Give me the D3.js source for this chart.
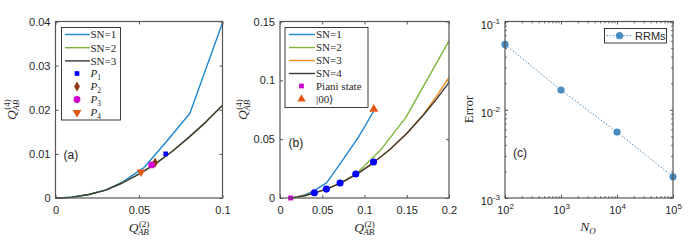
<!DOCTYPE html>
<html>
<head>
<meta charset="utf-8">
<script src="https://cdn.jsdelivr.net/npm/d3@7"></script>
<style>
  body { margin: 0; background: #fff; }
</style>
</head>
<body>
<div id="container"></div>
<script>
// ---- panel (a) data ----
const aSN1X = [0, 0.01, 0.02, 0.03, 0.04, 0.053, 0.0665, 0.0805, 0.1];
const aSN1Y = [0, 0.0002, 0.0008, 0.0018, 0.0036, 0.0069, 0.0128, 0.0192, 0.0397];
const aLowX = [0, 0.005, 0.01, 0.02, 0.03, 0.04, 0.05, 0.06, 0.07, 0.08, 0.09, 0.1];
const aSN2Y = [0, 0.00003, 0.0002, 0.0008, 0.0018, 0.0034, 0.0054, 0.0078, 0.0106, 0.0138, 0.0172, 0.021];
const aSN3Y = [0, 0.00003, 0.0002, 0.0008, 0.0018, 0.0034, 0.0054, 0.0078, 0.0106, 0.0138, 0.0172, 0.021];
const aPointNames = ["1", "2", "3", "4"];
const aPointX = [0.066, 0.0596, 0.0576, 0.0512];
const aPointY = [0.0100, 0.0080, 0.0075, 0.0059];
const aP2Err = 0.0004;

// ---- panel (b) data ----
const bSN1X = [0.0126, 0.02, 0.03, 0.0407, 0.0553, 0.075, 0.093, 0.1107];
const bSN1Y = [0, 0.0009, 0.0028, 0.0062, 0.013, 0.033, 0.052, 0.0735];
const bSN2X = [0.0126, 0.02, 0.03, 0.04, 0.055, 0.071, 0.09, 0.119, 0.149, 0.2];
const bSN2Y = [0, 0.0007, 0.0021, 0.0041, 0.0075, 0.0126, 0.0205, 0.0407, 0.0685, 0.1335];
const bLowX = [0.0126, 0.02, 0.03, 0.04, 0.055, 0.071, 0.09, 0.11, 0.13, 0.15, 0.17, 0.185, 0.2];
const bSN3Y = [0, 0.0007, 0.0021, 0.0041, 0.0075, 0.0125, 0.0199, 0.0297, 0.0412, 0.0548, 0.0712, 0.0862, 0.1025];
const bSN4Y = [0, 0.0007, 0.0021, 0.0041, 0.0075, 0.0125, 0.0199, 0.0297, 0.0412, 0.0548, 0.0708, 0.0838, 0.0982];
const bDotX = [0.0407, 0.0549, 0.0711, 0.0897, 0.1107];
const bDotY = [0.0045, 0.0076, 0.0127, 0.0204, 0.0306];
const bPiani = [0.0126, 0];
const bKet00 = [0.111, 0.0755];

// ---- panel (c) data ----
const cNO = [1e2, 1e3, 1e4, 1e5];
const cError = [0.055, 0.0167, 0.00558, 0.00174];

const serif = "Liberation Serif, Times New Roman, serif";
const sans = "Liberation Sans, Arial, Helvetica, sans-serif";
const ink = "#262626";
const cBlue = "#1f86cf", cGreen = "#7db53a", cOrange = "#ee8c1e", cDark = "#3a3a38";
const cRRM = "#4a8bc0";

const svg = d3.select("#container").append("svg")
  .attr("width", 697).attr("height", 241);

const yTop = 21.5, yBottom = 198;

function zip(xs, ys) { return xs.map((v, i) => [v, ys[i]]); }

// draws inward ticks on all four sides
function drawAxes(x, y, xTicks, yTicks, xFmt, yFmt, xMinor, yMinor) {
  const [x0, x1] = x.range();
  const g = svg.append("g");
  g.append("g").attr("class", "xb").attr("transform", `translate(0,${yBottom})`)
    .call(d3.axisBottom(x).tickValues(xTicks).tickSize(-3).tickPadding(8).tickFormat(xFmt));
  g.append("g").attr("transform", `translate(0,${yTop})`)
    .call(d3.axisTop(x).tickValues(xTicks).tickSize(-3).tickFormat(""));
  g.append("g").attr("class", "yl").attr("transform", `translate(${x0},0)`)
    .call(d3.axisLeft(y).tickValues(yTicks).tickSize(-3).tickPadding(5).tickFormat(yFmt));
  g.append("g").attr("transform", `translate(${x1},0)`)
    .call(d3.axisRight(y).tickValues(yTicks).tickSize(-3).tickFormat(""));
  if (xMinor) {
    g.append("g").attr("transform", `translate(0,${yBottom})`)
      .call(d3.axisBottom(x).tickValues(xMinor).tickSize(-1.8).tickFormat(""));
    g.append("g").attr("transform", `translate(0,${yTop})`)
      .call(d3.axisTop(x).tickValues(xMinor).tickSize(-1.8).tickFormat(""));
  }
  if (yMinor) {
    g.append("g").attr("transform", `translate(${x0},0)`)
      .call(d3.axisLeft(y).tickValues(yMinor).tickSize(-1.8).tickFormat(""));
    g.append("g").attr("transform", `translate(${x1},0)`)
      .call(d3.axisRight(y).tickValues(yMinor).tickSize(-1.8).tickFormat(""));
  }
  g.selectAll(".domain").remove();
  g.selectAll(".tick line").attr("stroke", ink).attr("stroke-width", 0.8);
  g.selectAll("text").attr("font-family", sans).attr("font-size", 11).attr("fill", ink);
  return g;
}

function drawBox(x) {
  const [x0, x1] = x.range();
  svg.append("rect")
    .attr("x", x0).attr("y", yTop).attr("width", x1 - x0).attr("height", yBottom - yTop)
    .attr("fill", "none").attr("stroke", "#555").attr("stroke-width", 1.2);
}

function drawLine(x, y, pts, color) {
  svg.append("path").datum(pts)
    .attr("d", d3.line().x(d => x(d[0])).y(d => y(d[1])))
    .attr("fill", "none").attr("stroke", color).attr("stroke-width", 1.4)
    .attr("stroke-linejoin", "round");
}

// Q^{(n)}_{AB} label
function qLabel(cx, cy, rot, sup) {
  const outer = svg.append("g").attr("transform", `translate(${cx},${cy}) rotate(${rot})`);
  const g = outer.append("g");
  const q = g.append("text").attr("font-family", serif).attr("font-style", "italic")
    .attr("font-size", 13.5).attr("fill", ink).text("Q");
  const w = q.node().getComputedTextLength();
  const s1 = g.append("text").attr("x", w + 0.5).attr("y", -5.5).attr("font-family", serif)
    .attr("font-size", 9).attr("fill", ink).text(sup);
  const s2 = g.append("text").attr("x", w - 0.5).attr("y", 3).attr("font-family", serif)
    .attr("font-style", "italic").attr("font-size", 9).attr("fill", ink).text("AB");
  const total = w + Math.max(s1.node().getComputedTextLength(), s2.node().getComputedTextLength());
  g.attr("transform", `translate(${-total / 2},0)`);
}

function panelLabel(px, py, t) {
  svg.append("text").attr("x", px).attr("y", py).attr("font-family", sans)
    .attr("font-size", 12).attr("fill", ink).text(t);
}

function marker(sel, type, size, color, rotate) {
  sel.append("path")
    .attr("d", d3.symbol().type(type).size(size)())
    .attr("transform", rotate ? "rotate(180)" : null)
    .attr("fill", color);
}

// ================= PANEL (a) =================
{
  const x = d3.scaleLinear().domain([0, 0.1]).range([55.5, 222.5]);
  const y = d3.scaleLinear().domain([0, 0.04]).range([yBottom, yTop]);
  drawAxes(x, y, [0, 0.05, 0.1], [0, 0.01, 0.02, 0.03, 0.04],
    d => d === 0 ? "0" : String(d), d => d === 0 ? "0" : d3.format(".2f")(d));

  drawLine(x, y, zip(aSN1X, aSN1Y), cBlue);
  drawLine(x, y, zip(aLowX, aSN2Y), cGreen);
  drawLine(x, y, zip(aLowX, aSN3Y), cDark);

  const shapes = [
    { type: d3.symbolSquare, size: 22, color: "#0000ff" },
    { type: d3.symbolDiamond, size: 30, color: "#8f3a12" },
    { type: d3.symbolCircle, size: 36, color: "#d000d0" },
    { type: d3.symbolTriangle, size: 34, color: "#e2561a", rot: true }
  ];
  aPointNames.forEach((n, i) => {
    const s = shapes[i];
    const gp = svg.append("g").attr("transform", `translate(${x(aPointX[i])},${y(aPointY[i])})`);
    if (i === 1) {
      gp.append("line").attr("y1", y(aPointY[i] - aP2Err) - y(aPointY[i]))
        .attr("y2", y(aPointY[i] + aP2Err) - y(aPointY[i]))
        .attr("stroke", s.color).attr("stroke-width", 1);
    }
    marker(gp, s.type, s.size, s.color, s.rot);
  });

  drawBox(x);

  // legend
  const lg = svg.append("g").attr("transform", "translate(61.5,27.5)");
  lg.append("rect").attr("width", 59).attr("height", 92.5)
    .attr("fill", "#fff").attr("stroke", ink).attr("stroke-width", 0.9);
  const lineItems = [["SN=1", cBlue], ["SN=2", cGreen], ["SN=3", cDark]];
  lineItems.forEach((d, i) => {
    const yy = 7 + i * 13.2;
    lg.append("line").attr("x1", 3.5).attr("x2", 28.5).attr("y1", yy).attr("y2", yy)
      .attr("stroke", d[1]).attr("stroke-width", 1.4);
    lg.append("text").attr("x", 29).attr("y", yy + 3.8).attr("font-family", serif)
      .attr("font-size", 11).attr("fill", ink).text(d[0]);
  });
  aPointNames.forEach((n, i) => {
    const yy = 46 + i * 13;
    const s = shapes[i];
    const gm = lg.append("g").attr("transform", `translate(15.5,${yy})`);
    if (i === 1) gm.append("line").attr("y1", -4).attr("y2", 4).attr("stroke", s.color);
    marker(gm, s.type, s.size, s.color, s.rot);
    const t = lg.append("text").attr("x", 29).attr("y", yy + 3.8).attr("font-family", serif)
      .attr("font-size", 11).attr("fill", ink);
    t.append("tspan").attr("font-style", "italic").text("P");
    t.append("tspan").attr("font-size", 7.5).attr("dy", 2.5).text(n);
  });

  panelLabel(63.5, 159, "(a)");
  qLabel(139, 232, 0, "(2)");
  qLabel(15.5, 109.5, -90, "(4)");
}

// ================= PANEL (b) =================
{
  const x = d3.scaleLinear().domain([0, 0.2]).range([280, 449]);
  const y = d3.scaleLinear().domain([0, 0.15]).range([yBottom, yTop]);
  drawAxes(x, y, [0, 0.05, 0.1, 0.15, 0.2], [0, 0.05, 0.1, 0.15],
    d => d === 0 ? "0" : String(d), d => d === 0 ? "0" : String(d));

  drawLine(x, y, zip(bSN1X, bSN1Y), cBlue);
  drawLine(x, y, zip(bSN2X, bSN2Y), cGreen);
  drawLine(x, y, zip(bLowX, bSN3Y), cOrange);
  drawLine(x, y, zip(bLowX, bSN4Y), cDark);

  bDotX.forEach((v, i) => {
    const gp = svg.append("g").attr("transform", `translate(${x(v)},${y(bDotY[i])})`);
    marker(gp, d3.symbolCircle, 40, "#0000ff");
  });
  marker(svg.append("g").attr("transform", `translate(${x(bPiani[0])},${y(bPiani[1])})`),
    d3.symbolSquare, 24, "#c800c8");
  marker(svg.append("g").attr("transform", `translate(${x(bKet00[0])},${y(bKet00[1])})`),
    d3.symbolTriangle, 36, "#e2561a");

  drawBox(x);

  const lg = svg.append("g").attr("transform", "translate(285,27.5)");
  lg.append("rect").attr("width", 83).attr("height", 80)
    .attr("fill", "#fff").attr("stroke", ink).attr("stroke-width", 0.9);
  const lineItems = [["SN=1", cBlue], ["SN=2", cGreen], ["SN=3", cOrange], ["SN=4", cDark]];
  lineItems.forEach((d, i) => {
    const yy = 7 + i * 13;
    lg.append("line").attr("x1", 4).attr("x2", 30).attr("y1", yy).attr("y2", yy)
      .attr("stroke", d[1]).attr("stroke-width", 1.4);
    lg.append("text").attr("x", 31).attr("y", yy + 3.8).attr("font-family", serif)
      .attr("font-size", 11).attr("fill", ink).text(d[0]);
  });
  marker(lg.append("g").attr("transform", "translate(16.5,58.5)"), d3.symbolSquare, 22, "#c800c8");
  lg.append("text").attr("x", 31).attr("y", 62.3).attr("font-family", serif)
    .attr("font-size", 11).attr("fill", ink).text("Piani state");
  marker(lg.append("g").attr("transform", "translate(16.5,71.5)"), d3.symbolTriangle, 30, "#e2561a");
  lg.append("text").attr("x", 31).attr("y", 75.3).attr("font-family", serif)
    .attr("font-size", 11).attr("fill", ink).text("|00\u27E9");

  panelLabel(288.5, 147, "(b)");
  qLabel(364.5, 232, 0, "(2)");
  qLabel(247, 109.5, -90, "(4)");
}

// ================= PANEL (c) =================
{
  const x = d3.scaleLog().domain([1e2, 1e5]).range([505, 673]);
  const y = d3.scaleLog().domain([1e-3, 1e-1]).range([yBottom, yTop]);
  const xMinor = [], yMinor = [];
  [1e2, 1e3, 1e4].forEach(b => { for (let k = 2; k <= 9; k++) xMinor.push(b * k); });
  [1e-3, 1e-2].forEach(b => { for (let k = 2; k <= 9; k++) yMinor.push(b * k); });
  const g = drawAxes(x, y, [1e2, 1e3, 1e4, 1e5], [1e-3, 1e-2, 1e-1],
    () => "", () => "", xMinor, yMinor);

  // superscript tick labels
  g.select(".xb").selectAll(".tick text").each(function (d) {
    const t = d3.select(this).attr("text-anchor", "middle");
    t.append("tspan").text("10");
    t.append("tspan").attr("font-size", 8).attr("dy", -5).text(Math.round(Math.log10(d)));
  });
  g.select(".yl").selectAll(".tick text").each(function (d) {
    const t = d3.select(this).attr("dy", "0.6em");
    t.append("tspan").text("10");
    t.append("tspan").attr("font-size", 8).attr("dy", -5).text("-" + Math.round(-Math.log10(d)));
  });

  const pts = zip(cNO, cError);
  svg.append("path").datum(pts)
    .attr("d", d3.line().x(d => x(d[0])).y(d => y(d[1])))
    .attr("fill", "none").attr("stroke", cRRM).attr("stroke-width", 1)
    .attr("stroke-dasharray", "1.5,1.8");
  svg.selectAll(".rrm").data(pts).enter().append("circle")
    .attr("cx", d => x(d[0])).attr("cy", d => y(d[1])).attr("r", 3.6)
    .attr("fill", cRRM);

  drawBox(x);

  const lg = svg.append("g").attr("transform", "translate(604.5,28.5)");
  lg.append("rect").attr("width", 62).attr("height", 14.5)
    .attr("fill", "#fff").attr("stroke", ink).attr("stroke-width", 0.9);
  lg.append("line").attr("x1", 2).attr("x2", 28).attr("y1", 7.2).attr("y2", 7.2)
    .attr("stroke", cRRM).attr("stroke-dasharray", "1.5,1.8");
  lg.append("circle").attr("cx", 15).attr("cy", 7.2).attr("r", 3.6).attr("fill", cRRM);
  lg.append("text").attr("x", 30.5).attr("y", 11.2).attr("font-family", sans)
    .attr("font-size", 11).attr("fill", ink).text("RRMs");

  panelLabel(513, 157, "(c)");
  svg.append("text").attr("transform", "translate(473,109.5) rotate(-90)")
    .attr("text-anchor", "middle").attr("font-family", serif).attr("font-size", 13)
    .attr("fill", ink).text("Error");
  const nl = svg.append("text").attr("x", 588).attr("y", 231).attr("text-anchor", "middle")
    .attr("font-family", serif).attr("font-size", 13.5).attr("fill", ink);
  nl.append("tspan").attr("font-style", "italic").text("N");
  nl.append("tspan").attr("font-style", "italic").attr("font-size", 9).attr("dy", 2.5).text("O");
}
</script>
</body>
</html>
